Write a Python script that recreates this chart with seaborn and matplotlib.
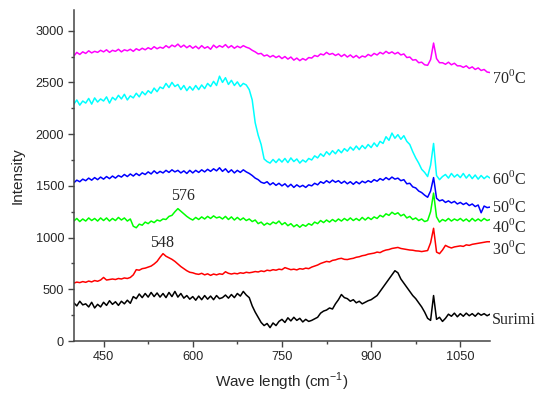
import numpy as np
import pandas as pd
import matplotlib
matplotlib.use('Agg')
import matplotlib.pyplot as plt
import seaborn as sns
from matplotlib.ticker import MultipleLocator

# Raman spectra, every 5 cm-1 (400 ... 1100)
wave = np.arange(400, 1101, 5)

s70 = [2755, 2790, 2770, 2795, 2780, 2805, 2785, 2800, 2790, 2810,
       2795, 2815, 2790, 2810, 2800, 2820, 2795, 2815, 2805, 2820,
       2800, 2825, 2810, 2830, 2815, 2835, 2820, 2845, 2825, 2840,
       2830, 2855, 2835, 2860, 2845, 2870, 2840, 2860, 2835, 2855,
       2830, 2850, 2825, 2855, 2830, 2845, 2820, 2860, 2835, 2855,
       2840, 2865, 2835, 2855, 2830, 2850, 2835, 2855, 2840, 2830,
       2810, 2795, 2775, 2780, 2755, 2765, 2745, 2760, 2740, 2755,
       2730, 2750, 2725, 2745, 2715, 2735, 2710, 2730, 2715, 2740,
       2735, 2760, 2750, 2775, 2765, 2790, 2770, 2780, 2760, 2775,
       2750, 2770, 2745, 2765, 2740, 2760, 2735, 2755, 2745, 2770,
       2755, 2780, 2765, 2790, 2775, 2800, 2780, 2795, 2775, 2790,
       2765, 2775, 2740, 2745, 2715, 2720, 2690, 2695, 2670, 2665,
       2720, 2880, 2730, 2690, 2690, 2675, 2695, 2670, 2685, 2660,
       2660, 2645, 2660, 2635, 2650, 2625, 2640, 2615, 2625, 2600,
       2595]

s60 = [2290, 2330, 2280, 2320, 2300, 2345, 2290, 2350, 2310, 2340,
       2320, 2360, 2300, 2355, 2330, 2375, 2340, 2385, 2330, 2370,
       2350, 2395, 2360, 2410, 2380, 2420, 2395, 2445, 2410, 2455,
       2440, 2490, 2450, 2500, 2460, 2480, 2430, 2470, 2420, 2460,
       2425, 2470, 2430, 2475, 2440, 2490, 2460, 2510, 2470, 2560,
       2500, 2545, 2480, 2520, 2470, 2505, 2460, 2490, 2475, 2430,
       2330, 2110, 1990, 1900, 1760, 1735, 1720, 1755, 1725, 1760,
       1730, 1765, 1725, 1770, 1735, 1760, 1720, 1750, 1730, 1765,
       1750, 1790, 1770, 1810, 1785, 1830, 1800, 1840, 1810, 1850,
       1820, 1860, 1835, 1875, 1845, 1885, 1850, 1890, 1860, 1900,
       1870, 1915, 1880, 1930, 1910, 1975, 1940, 2010, 1960, 1995,
       1950, 1985, 1930, 1900, 1830, 1770, 1720, 1660, 1630, 1590,
       1700, 1910, 1600, 1560, 1590, 1610, 1575, 1620, 1585, 1610,
       1580, 1620, 1575, 1610, 1570, 1605, 1565, 1600, 1570, 1595,
       1575]

s50 = [1530, 1555, 1540, 1565, 1550, 1575, 1555, 1580, 1560, 1585,
       1565, 1590, 1570, 1595, 1575, 1600, 1585, 1610, 1590, 1615,
       1595, 1620, 1600, 1625, 1610, 1635, 1615, 1645, 1620, 1640,
       1625, 1650, 1630, 1655, 1635, 1650, 1625, 1645, 1620, 1650,
       1625, 1650, 1630, 1655, 1635, 1660, 1640, 1665, 1645, 1675,
       1640, 1665, 1630, 1655, 1625, 1650, 1630, 1655, 1635, 1620,
       1600, 1575, 1560, 1535, 1525, 1540, 1510, 1530, 1505, 1525,
       1500, 1520, 1490, 1515, 1485, 1510, 1490, 1505, 1485, 1510,
       1500, 1525, 1510, 1540, 1525, 1550, 1530, 1555, 1535, 1550,
       1525, 1545, 1520, 1540, 1515, 1540, 1520, 1545, 1530, 1550,
       1535, 1560, 1545, 1570, 1555, 1580, 1560, 1585, 1565, 1575,
       1550, 1560, 1520, 1525, 1490, 1480, 1450, 1435, 1410, 1390,
       1450, 1580, 1380, 1355, 1365, 1340, 1355, 1335, 1350, 1325,
       1340, 1320, 1335, 1310, 1325, 1300, 1315, 1240, 1305, 1290,
       1295]

s40 = [1160, 1185, 1155, 1180, 1160, 1190, 1165, 1185, 1160, 1190,
       1165, 1190, 1160, 1185, 1165, 1195, 1170, 1190, 1160, 1180,
       1110, 1095, 1130, 1120, 1150, 1135, 1160, 1145, 1170, 1160,
       1180, 1175, 1205, 1215, 1250, 1280, 1255, 1230, 1205, 1185,
       1170, 1195, 1175, 1200, 1180, 1205, 1185, 1210, 1190, 1200,
       1180, 1205, 1175, 1200, 1170, 1195, 1170, 1190, 1165, 1180,
       1155, 1170, 1135, 1150, 1120, 1140, 1125, 1150, 1135, 1160,
       1125, 1145, 1115, 1135, 1105, 1125, 1100, 1125, 1110, 1135,
       1120, 1150, 1135, 1165, 1145, 1170, 1150, 1175, 1155, 1180,
       1160, 1185, 1165, 1190, 1165, 1185, 1165, 1195, 1170, 1195,
       1175, 1200, 1185, 1215, 1200, 1230, 1215, 1245, 1225, 1240,
       1210, 1225, 1190, 1205, 1175, 1190, 1165, 1180, 1155, 1165,
       1250, 1430, 1200, 1150, 1175, 1160, 1185, 1160, 1180, 1165,
       1185, 1160, 1180, 1155, 1185, 1160, 1180, 1160, 1185, 1165,
       1175]

s30 = [560, 570, 565, 575, 568, 580, 572, 585, 578, 590,
       615, 590, 595, 600, 595, 605, 600, 610, 605, 615,
       640, 690, 685, 700, 705, 715, 725, 745, 770, 810,
       845, 820, 805, 790, 770, 745, 720, 700, 680, 665,
       660, 650, 645, 655, 640, 650, 635, 648, 640, 650,
       645, 670, 655, 648, 655, 650, 660, 655, 665, 660,
       665, 672, 668, 678, 672, 685, 680, 690, 685, 695,
       690, 710, 700, 690, 695, 688, 700, 695, 705, 700,
       715, 725, 735, 750, 760, 770, 765, 780, 785, 795,
       800, 790, 788, 795, 800, 810, 815, 825, 830, 840,
       845, 850, 860, 855, 870, 880, 885, 895, 900, 905,
       895, 890, 885, 880, 878, 872, 870, 865, 870, 875,
       950, 1090, 860, 845, 880, 925, 910, 900, 910, 915,
       920, 915, 930, 925, 935, 940, 945, 950, 955, 960,
       960]

surimi = [370, 340, 385, 350, 360, 330, 375, 320, 355, 330,
          375, 345, 390, 355, 380, 345, 385, 360, 395, 365,
          430, 410, 455, 420, 460, 425, 470, 430, 465, 425,
          460, 420, 470, 430, 480, 425, 460, 415, 440, 405,
          430, 395, 435, 400, 440, 405, 435, 400, 440, 410,
          420, 445, 415, 450, 420, 460, 435, 480, 445, 420,
          340, 280, 230, 180, 150, 170, 130, 175, 150, 190,
          210, 180, 225, 195, 230, 200, 220, 185, 210, 190,
          200, 215, 230, 270, 290, 300, 320, 310, 360, 400,
          450, 420, 410, 385, 400, 370, 385, 360, 375, 390,
          400, 420, 440, 480, 520, 560, 600, 640, 680, 660,
          600, 560, 520, 480, 440, 410, 370, 330, 280, 220,
          200, 440, 210, 230, 190, 220, 260, 240, 270, 235,
          265, 240, 270, 245, 265, 240, 270, 250, 265, 245,
          260]

names = ['70', '60', '50', '40', '30', 'Surimi']
colors = ['#ff00ff', '#00ffff', '#0000ff', '#00ff00', '#ff0000', '#000000']
label_y = [2540, 1570, 1295, 1100, 890, 205]
peaks = [(548, 950, '548'), (583, 1405, '576')]

frames = []
for name, vals in zip(names, [s70, s60, s50, s40, s30, surimi]):
    frames.append(pd.DataFrame({'wave': wave, 'intensity': vals, 'sample': name}))
df = pd.concat(frames, ignore_index=True)

sns.set_style('ticks')
plt.rcParams['font.family'] = ['Liberation Sans', 'DejaVu Sans']
plt.rcParams['mathtext.fontset'] = 'custom'
plt.rcParams['mathtext.rm'] = 'Liberation Serif'
plt.rcParams['mathtext.sf'] = 'Liberation Sans'

fig = plt.figure(figsize=(5.35, 3.98), dpi=100)
ax = fig.add_axes([0.138, 0.143, 0.778, 0.832])

sns.lineplot(data=df, x='wave', y='intensity', hue='sample', palette=dict(zip(names, colors)),
             estimator=None, legend=False, linewidth=1.1, ax=ax)

ax.set_xlim(400, 1100)
ax.set_ylim(0, 3200)
ax.set_xticks([450, 600, 750, 900, 1050])
ax.xaxis.set_minor_locator(MultipleLocator(75))
ax.set_yticks([0, 500, 1000, 1500, 2000, 2500, 3000])
ax.yaxis.set_minor_locator(MultipleLocator(250))

sns.despine(ax=ax)
for side in ['left', 'bottom']:
    ax.spines[side].set_color('#444444')
    ax.spines[side].set_linewidth(1.1)
ax.tick_params(which='major', length=4, width=1.0, color='#444444', labelsize=9.2, pad=3)
ax.tick_params(which='minor', length=2.5, width=1.0, color='#444444')

ax.set_xlabel('Wave length (cm$^{\\mathsf{-1}}$)', fontsize=11, labelpad=6)
ax.set_ylabel('Intensity', fontsize=11, labelpad=8)

serif = ['Liberation Serif', 'DejaVu Serif']
for name, y in zip(names, label_y):
    txt = 'Surimi' if name == 'Surimi' else name + '$^{\\rm 0}$C'
    ax.text(1103, y, txt, fontsize=11.5, family=serif, va='center', ha='left', clip_on=False)
for x, y, t in peaks:
    ax.text(x, y, t, fontsize=11.5, family=serif, ha='center', va='center')

fig.savefig('out.png', dpi=100)
